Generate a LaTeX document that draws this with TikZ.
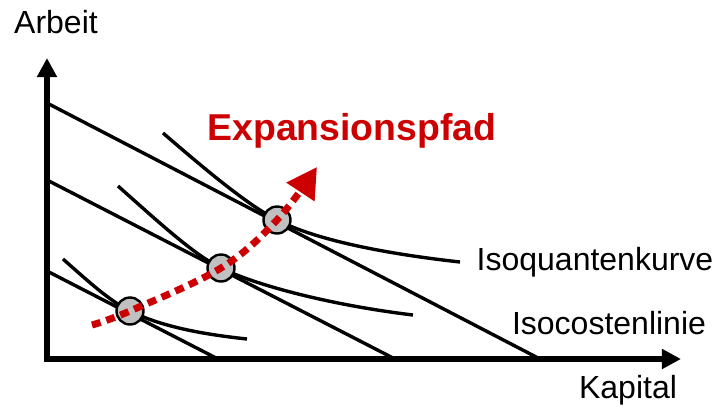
\documentclass[tikz,border=0pt]{standalone}
\usepackage{fontspec}
\setmainfont{Liberation Sans}
\usetikzlibrary{arrows.meta}
\definecolor{pfadrot}{RGB}{204,0,0}
\definecolor{punktgrau}{RGB}{192,192,192}
\begin{document}
\begin{tikzpicture}[x=0.5pt,y=-0.5pt,line join=round,
	achse/.style={line width=2.7pt,line join=miter,{Triangle[length=9.5pt,width=9.5pt]}-{Triangle[length=9.5pt,width=9.5pt]}},
	linie/.style={line width=1.7pt},
	punkt/.style={circle,draw,line width=1.2pt,fill=punktgrau,minimum size=13.5pt,inner sep=0pt},
	pfad/.style={pfadrot,line width=3.5pt,dash pattern=on 4.5pt off 3pt,-{Triangle[length=15pt,width=16pt]}},
	beschr/.style={font=\fontsize{16}{19}\selectfont}]
	\useasboundingbox (0,0) rectangle (720,414);
	\path
	(47,58) coordinate (Y)
	(47,359) coordinate (O)
	(681,359) coordinate (X)
	(47,103) coordinate (K1a)
	(540,359) coordinate (K1b)
	(47,180) coordinate (K2a)
	(395,359) coordinate (K2b)
	(45,270) coordinate (K3a)
	(218,359) coordinate (K3b)
	(92,325) coordinate (S)
	(317,167) coordinate (E);
	% Isokostenlinien
	\draw[linie] (K1a) -- (K1b);
	\draw[linie] (K2a) -- (K2b);
	\draw[linie] (K3a) -- (K3b);
	% Isoquanten
	\draw[linie] (163,133) .. controls (215,178) and (250,206) .. (277,220)
		.. controls (310,237) and (370,252) .. (460,262);
	\draw[linie] (118,186) .. controls (165,228) and (195,255) .. (221,268)
		.. controls (255,285) and (330,305) .. (413,315);
	\draw[linie] (63,259) .. controls (90,283) and (110,301) .. (130,311)
		.. controls (160,326) and (200,334) .. (247,339);
	% Achsen
	\draw[achse] (Y) -- (O) -- (X);
	% Tangentialpunkte
	\node[punkt] (P1) at (130,311) {};
	\node[punkt] (P2) at (221,268) {};
	\node[punkt] (P3) at (277,220) {};
	\draw[pfad] plot[smooth,tension=0.6] coordinates {(S) (P1.center) (P2.center) (P3.center) (E)};
	% Beschriftung
	\node[beschr] (arbeit) at (56,22) {Arbeit};
	\node[beschr] (kapital) at (628,390) {Kapital};
	\node[beschr] (isoq) at (595,262) {Isoquantenkurve};
	\node[beschr] (isok) at (609,323) {Isocostenlinie};
	\node[font=\fontsize{18.7}{22}\selectfont\bfseries,text=pfadrot] (exp) at (352,131) {Expansionspfad};
\end{tikzpicture}
\end{document}
